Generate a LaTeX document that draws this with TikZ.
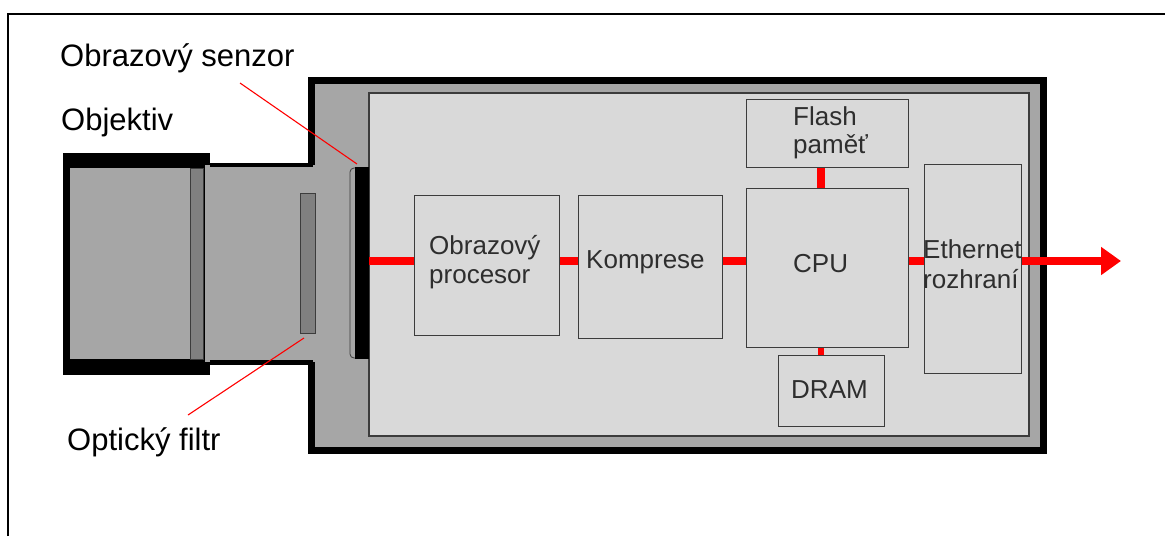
\documentclass[tikz,border=0pt]{standalone}
\usepackage{fontspec}
\setmainfont{Liberation Sans}
\usetikzlibrary{arrows.meta}
\definecolor{shell}{HTML}{A6A6A6}
\definecolor{board}{HTML}{D9D9D9}
\definecolor{glass}{HTML}{808080}
\definecolor{edge}{HTML}{3C3C3C}
\definecolor{ink}{HTML}{2E2E2E}
\definecolor{bus}{HTML}{FF0000}

\begin{document}
\begin{tikzpicture}[x=1pt,y=-1pt,
  unit/.style={draw=edge, line width=1.3pt, fill=board, inner sep=0pt,
    anchor=north west},
  boxtext/.style={font=\fontsize{26}{30}\selectfont, text=ink, inner sep=0pt,
    anchor=base west},
  caption/.style={font=\fontsize{31}{35}\selectfont, text=black, inner sep=0pt,
    anchor=base west},
  wire/.style={draw=bus, line width=8pt},
  leader/.style={draw=bus, line width=1.1pt},
  wall/.style={draw=black, line width=7pt},
]
\useasboundingbox (0,0) rectangle (1165,536);

% page frame (open on the right and bottom)
\draw[line width=2.2pt] (8,536) -- (8,14) -- (1165,14);

% lens barrel
\fill[black] (63,153) rectangle (210,375);
\fill[shell] (70,168) rectangle (190,359);
\draw[draw=edge, line width=0.8pt, fill=glass] (190,168) rectangle (203,359);

% camera housing with tube
\fill[shell] (205,165) rectangle (315,362);
\fill[shell] (311,80) rectangle (1043,450);
\draw[wall] (311,165) -- (311,80) -- (1043,80) -- (1043,450) -- (311,450) -- (311,362);
\draw[line width=4.5pt] (210,165) -- (313,165);
\draw[line width=5pt] (210,362) -- (313,362);

% electronics board
\draw[draw=edge, line width=1.3pt, fill=board] (369,93) rectangle (1029,436);

% optical filter
\draw[draw=edge, line width=0.8pt, fill=glass] (300,193) rectangle (315,333);

% image sensor
\draw[draw=edge, line width=0.8pt, fill=shell, rounded corners=4pt] (350,168) rectangle (362,358);
\node[fill=black, inner sep=0pt, minimum width=14pt, minimum height=192pt, anchor=north west]
  (sensor) at (355,167) {};

% processing blocks
\node[unit, minimum width=145pt, minimum height=140pt] (proc) at (414,195) {};
\node[unit, minimum width=144pt, minimum height=143pt] (comp) at (578,195) {};
\node[unit, minimum width=162pt, minimum height=159pt] (cpu) at (746,188) {};
\node[unit, minimum width=162pt, minimum height=68pt] (flash) at (746,99) {};
\node[unit, minimum width=106pt, minimum height=71pt] (dram) at (778,355) {};
\node[unit, minimum width=97pt, minimum height=209pt] (eth) at (924,164) {};

% block labels
\node[boxtext] at (429,254) {Obrazový};
\node[boxtext] at (429,283) {procesor};
\node[boxtext] at (586,268) {Komprese};
\node[boxtext] at (793,272) {CPU};
\node[boxtext] at (793,125) {Flash};
\node[boxtext] at (793,153) {paměť};
\node[boxtext] at (791,398) {DRAM};
\node[boxtext] at (923,258) {Ethernet};
\node[boxtext] at (923,288) {rozhraní};

% data path
\coordinate (busline) at (0,261);
\coordinate (out) at (1121,261);
\draw[wire] (sensor.east |- busline) -- (proc.west |- busline);
\draw[wire] (proc.east |- busline) -- (comp.west |- busline);
\draw[wire] (comp.east |- busline) -- (cpu.west |- busline);
\draw[wire] (cpu.east |- busline) -- (eth.west |- busline);
\draw[wire] (cpu.north -| 821,0) -- (flash.south -| 821,0);
\draw[draw=bus, line width=6pt] (cpu.south -| 821,0) -- (dram.north -| 821,0);
\draw[wire, -{Triangle[length=20pt,width=27pt]}] (eth.east |- busline) -- (out);

% part labels
\node[caption] (lsensor) at (60,66) {Obrazový senzor};
\node[caption] (llens) at (61,130) {Objektiv};
\node[caption] (lfilter) at (67,450) {Optický filtr};
\coordinate (sensortip) at (357,164);
\coordinate (filtertip) at (304,338);
\draw[leader] (240,83) -- (sensortip);
\draw[leader] (188,415) -- (filtertip);
\end{tikzpicture}
\end{document}
